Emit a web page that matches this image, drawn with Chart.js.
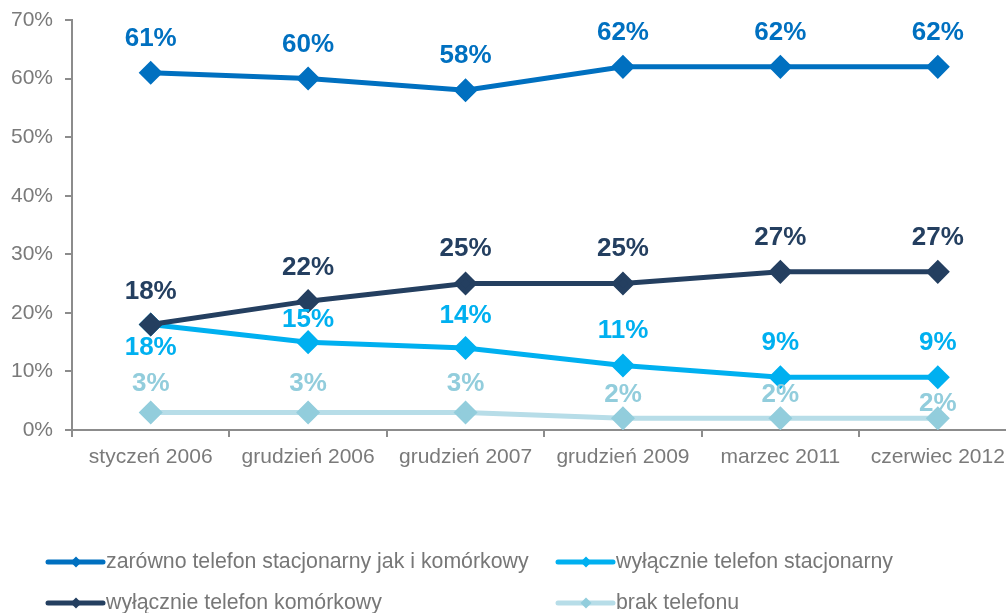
<!DOCTYPE html>
<html>
<head>
<meta charset="utf-8">
<script src="https://cdn.jsdelivr.net/npm/chart.js@4/dist/chart.umd.min.js"></script>
<style>
  html, body { margin: 0; padding: 0; background: #fff; overflow: hidden; }
  #wrap { width: 1030px; height: 613px; }
</style>
</head>
<body>
<div id="wrap"><canvas id="c" width="1030" height="613"></canvas></div>
<script>
const categories = ['styczeń 2006', 'grudzień 2006', 'grudzień 2007', 'grudzień 2009', 'marzec 2011', 'czerwiec 2012'];
const seriesNames = [
  'zarówno telefon stacjonarny jak i komórkowy',
  'wyłącznie telefon stacjonarny',
  'wyłącznie telefon komórkowy',
  'brak telefonu'
];
const obaTelefony = [61, 60, 58, 62, 62, 62];
const tylkoStacjonarny = [18, 15, 14, 11, 9, 9];
const tylkoKomorkowy = [18, 22, 25, 25, 27, 27];
const brakTelefonu = [3, 3, 3, 2, 2, 2];
const yTicks = [0, 10, 20, 30, 40, 50, 60, 70];

const FONT = '"Liberation Sans", Arial, sans-serif';
const colors = {
  oba: '#0070C0',
  stac: '#00B0F0',
  kom: '#243F60',
  brakLine: '#B7DDE8',
  brakPoint: '#92CDDC'
};

function ds(label, data, line, point, labelColor, offsets, order) {
  return {
    label, data,
    borderColor: line,
    backgroundColor: point,
    pointBackgroundColor: point,
    pointBorderColor: point,
    pointStyle: 'rectRot',
    pointRadius: 8.5,
    pointHoverRadius: 8.5,
    borderWidth: 5,
    tension: 0,
    order,
    labelColor, offsets
  };
}

const datasets = [
  ds(seriesNames[0], obaTelefony, colors.oba, colors.oba, colors.oba, [-34, -34, -34, -34, -34, -34], 1),
  ds(seriesNames[1], tylkoStacjonarny, colors.stac, colors.stac, colors.stac, [23, -22, -32, -35, -34, -34], 3),
  ds(seriesNames[2], tylkoKomorkowy, colors.kom, colors.kom, colors.kom, [-33, -33, -35, -35, -34, -34], 2),
  ds(seriesNames[3], brakTelefonu, colors.brakLine, colors.brakPoint, colors.brakPoint, [-29, -29, -29, -23, -23, -14], 4)
];

// value labels above / below each marker
const valueLabels = {
  id: 'valueLabels',
  afterDatasetsDraw(chart) {
    const ctx = chart.ctx;
    ctx.save();
    ctx.font = 'bold 26px ' + FONT;
    ctx.textAlign = 'center';
    ctx.textBaseline = 'middle';
    chart.data.datasets.forEach((d, i) => {
      const meta = chart.getDatasetMeta(i);
      meta.data.forEach((pt, j) => {
        ctx.fillStyle = d.labelColor;
        ctx.fillText(d.data[j] + '%', pt.x, pt.y + d.offsets[j]);
      });
    });
    ctx.restore();
  }
};

// two-row legend with line + diamond swatches
const lineLegend = {
  id: 'lineLegend',
  afterDraw(chart) {
    const ctx = chart.ctx;
    const slots = [
      { i: 0, x: 48, y: 562 },
      { i: 1, x: 558, y: 562 },
      { i: 2, x: 48, y: 603 },
      { i: 3, x: 558, y: 603 }
    ];
    ctx.save();
    ctx.font = '21.3px ' + FONT;
    ctx.textBaseline = 'middle';
    ctx.textAlign = 'left';
    slots.forEach(s => {
      const d = chart.data.datasets[s.i];
      const w = 55;
      ctx.strokeStyle = d.borderColor;
      ctx.lineWidth = 5;
      ctx.lineCap = 'round';
      ctx.beginPath();
      ctx.moveTo(s.x, s.y);
      ctx.lineTo(s.x + w, s.y);
      ctx.stroke();
      ctx.fillStyle = d.pointBackgroundColor;
      const cx = s.x + 28, r = 5.5;
      ctx.beginPath();
      ctx.moveTo(cx, s.y - r);
      ctx.lineTo(cx + r, s.y);
      ctx.lineTo(cx, s.y + r);
      ctx.lineTo(cx - r, s.y);
      ctx.closePath();
      ctx.fill();
      ctx.fillStyle = '#777777';
      ctx.fillText(d.label, s.x + w + 3, s.y);
    });
    ctx.restore();
  }
};

new Chart(document.getElementById('c'), {
  type: 'line',
  data: { labels: categories, datasets },
  options: {
    responsive: false,
    animation: false,
    layout: { padding: { top: 20, right: 7, left: 0, bottom: 0 } },
    plugins: { legend: { display: false }, tooltip: { enabled: false } },
    scales: {
      x: {
        offset: true,
        border: { display: true, color: '#8c8c8c', width: 2 },
        grid: { offset: true, drawOnChartArea: false, drawTicks: true, tickLength: 7, color: '#8c8c8c', lineWidth: 2 },
        ticks: { color: '#7a7a7a', font: { size: 21, family: FONT }, padding: 8, maxRotation: 0, autoSkip: false },
        afterFit(s) { s.height = 183; s.paddingRight = 0; }
      },
      y: {
        min: 0, max: 70,
        afterBuildTicks(s) { s.ticks = yTicks.map(v => ({ value: v })); },
        border: { display: true, color: '#8c8c8c', width: 2 },
        grid: { drawOnChartArea: false, drawTicks: true, tickLength: 7, color: '#8c8c8c', lineWidth: 2 },
        ticks: { color: '#7a7a7a', font: { size: 21, family: FONT }, padding: 12, callback: v => v + '%' },
        afterFit(s) { s.width = 72; s.paddingTop = 0; }
      }
    }
  },
  plugins: [valueLabels, lineLegend]
});
</script>
</body>
</html>
